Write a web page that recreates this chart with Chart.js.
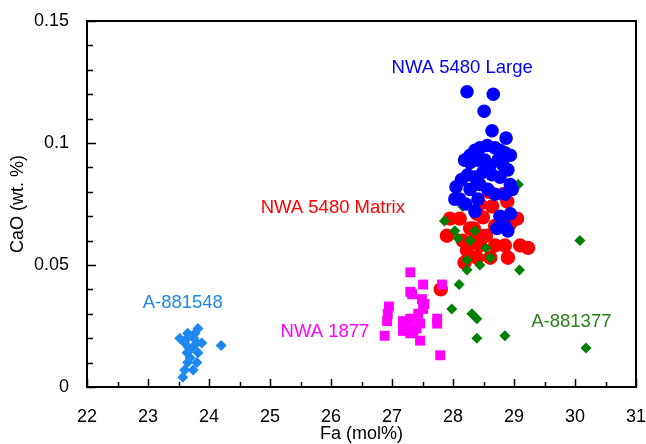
<!DOCTYPE html>
<html>
<head>
<meta charset="UTF-8">
<title>CaO vs Fa</title>
<style>
  html, body { margin: 0; padding: 0; background: #fff; overflow: hidden; }
  #box { width: 646px; height: 444px; }
  canvas { display: block; }
</style>
</head>
<body>
<div id="box"><canvas id="chart"></canvas></div>
<script src="https://cdn.jsdelivr.net/npm/chart.js"></script>
<script>
// Fa (mol%) and CaO (wt.%)
const a881548Fa  = [23.82, 23.77, 23.65, 23.52, 23.64, 23.80, 23.88, 23.60, 23.72, 23.82, 24.20, 23.64, 23.65, 23.80, 23.60, 23.57, 23.74, 23.69, 23.75, 23.67];
const a881548CaO = [0.024, 0.022, 0.022, 0.020, 0.020, 0.018, 0.018, 0.018, 0.016, 0.014, 0.017, 0.014, 0.010, 0.010, 0.007, 0.004, 0.007, 0.012, 0.020, 0.016];

const nwa1877Fa  = [27.30, 27.51, 27.82, 27.30, 27.49, 27.51, 26.95, 26.93, 26.92, 27.18, 27.30, 27.46, 27.74, 27.74, 27.18, 27.35, 27.30, 26.88, 27.46, 27.79, 27.53, 27.25, 27.40, 27.43, 27.33];
const nwa1877CaO = [0.047, 0.042, 0.042, 0.039, 0.036, 0.032, 0.033, 0.030, 0.027, 0.027, 0.028, 0.026, 0.028, 0.026, 0.023, 0.023, 0.022, 0.021, 0.019, 0.013, 0.034, 0.025, 0.024, 0.030, 0.038];

const largeFa  = [28.23, 28.66, 28.51, 28.64, 28.87, 28.56, 28.69, 28.44, 28.36, 28.77, 28.85, 28.28, 28.94, 28.19, 28.28, 28.41, 28.52, 28.61, 28.74, 28.82, 28.90, 28.24, 28.36, 28.49, 28.64, 28.77, 28.94, 28.14, 28.05, 28.11, 28.28, 28.44, 28.57, 28.69, 28.85, 28.97, 28.03, 28.21, 28.41, 28.77, 28.85, 28.90, 28.36, 28.72, 28.94];
const largeCaO = [0.121, 0.120, 0.113, 0.105, 0.102, 0.099, 0.098, 0.098, 0.097, 0.097, 0.096, 0.095, 0.095, 0.093, 0.092, 0.093, 0.093, 0.091, 0.093, 0.091, 0.089, 0.087, 0.086, 0.088, 0.087, 0.086, 0.083, 0.085, 0.082, 0.077, 0.081, 0.083, 0.081, 0.079, 0.079, 0.081, 0.077, 0.075, 0.077, 0.070, 0.066, 0.064, 0.072, 0.065, 0.071];

const a881377Fa  = [29.07, 28.16, 27.86, 28.03, 28.08, 28.54, 28.23, 28.44, 29.09, 28.23, 28.10, 27.98, 28.31, 28.39, 28.39, 28.85, 30.18, 30.08, 28.61, 28.28, 28.36];
const a881377CaO = [0.083, 0.074, 0.068, 0.064, 0.061, 0.057, 0.052, 0.050, 0.048, 0.048, 0.042, 0.032, 0.030, 0.028, 0.020, 0.021, 0.016, 0.060, 0.053, 0.060, 0.064];

const matrixFa  = [28.59, 28.82, 28.89, 28.44, 28.64, 27.95, 28.11, 28.39, 28.49, 28.94, 29.05, 28.69, 27.90, 28.16, 28.44, 29.10, 29.23, 28.69, 28.85, 28.23, 28.39, 28.61, 28.90, 28.19, 28.44, 28.34, 28.28, 27.80, 28.54, 28.34];
const matrixCaO = [0.080, 0.079, 0.076, 0.075, 0.074, 0.069, 0.069, 0.071, 0.0695, 0.067, 0.069, 0.066, 0.062, 0.060, 0.062, 0.058, 0.057, 0.058, 0.058, 0.056, 0.053, 0.053, 0.053, 0.051, 0.058, 0.065, 0.065, 0.040, 0.062, 0.060];

const xTicks = [22, 23, 24, 25, 26, 27, 28, 29, 30, 31];
const yTicks = [0, 0.05, 0.1, 0.15];

function pts(xs, ys) {
  return xs.map((x, i) => ({ x: x, y: ys[i] }));
}

const FONT = 'Arial, "Liberation Sans", sans-serif';

// text labels next to the groups
const notes = [
  { text: 'NWA 5480 Large', x: 28.15, y: 0.1307, color: '#0000ff' },
  { text: 'NWA 5480 Matrix', x: 26.03, y: 0.0734, color: '#ff0000' },
  { text: 'NWA 1877', x: 25.90, y: 0.0225, color: '#ff00ff' },
  { text: 'A-881548', x: 23.57, y: 0.0344, color: '#1e87f0' },
  { text: 'A-881377', x: 29.94, y: 0.0266, color: '#2a7d1a' }
];

const frame = {
  id: 'frame',
  afterDatasetsDraw(chart) {
    const ctx = chart.ctx;
    const a = chart.chartArea;
    const xs = chart.scales.x, ys = chart.scales.y;
    ctx.save();
    ctx.strokeStyle = '#000';
    ctx.lineWidth = 1.5;
    ctx.beginPath();
    // x ticks, inner, minor every 0.5
    for (let v = 22; v <= 31.001; v += 0.5) {
      const px = Math.round(xs.getPixelForValue(v)) + 0.5;
      const len = Math.abs(v - Math.round(v)) < 0.01 ? 8 : 5;
      ctx.moveTo(px, a.bottom);
      ctx.lineTo(px, a.bottom - len);
    }
    // y ticks, inner, minor every 0.01
    for (let k = 0; k <= 15; k++) {
      const py = Math.round(ys.getPixelForValue(k / 100)) + 0.5;
      const len = k % 5 === 0 ? 9 : 6;
      ctx.moveTo(a.left, py);
      ctx.lineTo(a.left + len, py);
    }
    ctx.stroke();
    ctx.lineWidth = 2;
    ctx.strokeRect(a.left, a.top, a.right - a.left, a.bottom - a.top);

    ctx.font = '18.5px ' + FONT;
    ctx.textAlign = 'center';
    ctx.textBaseline = 'middle';
    notes.forEach(n => {
      ctx.fillStyle = n.color;
      ctx.fillText(n.text, xs.getPixelForValue(n.x), ys.getPixelForValue(n.y));
    });
    ctx.restore();
  }
};

new Chart(document.getElementById('chart'), {
  type: 'scatter',
  data: {
    datasets: [
      { label: 'A-881548', data: pts(a881548Fa, a881548CaO), pointStyle: 'rectRot', pointRadius: 5.5,
        backgroundColor: '#1e87f0', borderColor: '#1e87f0', borderWidth: 0 },
      { label: 'NWA 1877', data: pts(nwa1877Fa, nwa1877CaO), pointStyle: 'rect', pointRadius: 7,
        backgroundColor: '#ff00ff', borderColor: '#ff00ff', borderWidth: 0 },
      { label: 'NWA 5480 Large', data: pts(largeFa, largeCaO), pointStyle: 'circle', pointRadius: 6.8,
        backgroundColor: '#0000ff', borderColor: '#0000ff', borderWidth: 0 },
      { label: 'A-881377', data: pts(a881377Fa, a881377CaO), pointStyle: 'rectRot', pointRadius: 5.5,
        backgroundColor: '#008000', borderColor: '#008000', borderWidth: 0 },
      { label: 'NWA 5480 Matrix', data: pts(matrixFa, matrixCaO), pointStyle: 'circle', pointRadius: 7.2,
        backgroundColor: '#ff0000', borderColor: '#ff0000', borderWidth: 0 }
    ]
  },
  options: {
    responsive: true,
    maintainAspectRatio: false,
    animation: false,
    layout: { padding: { top: 21, right: 10, left: 0, bottom: 0 } },
    plugins: {
      legend: { display: false },
      tooltip: { enabled: false }
    },
    scales: {
      x: {
        type: 'linear',
        min: 22, max: 31,
        afterBuildTicks(scale) { scale.ticks = xTicks.map(v => ({ value: v })); },
        afterFit(scale) { scale.height = 57; scale.paddingLeft = 0; scale.paddingRight = 0; },
        grid: { display: false },
        border: { display: false },
        ticks: { color: '#000', font: { size: 18, family: FONT }, padding: 11, maxRotation: 0 },
        title: { display: true, text: 'Fa (mol%)', color: '#000', font: { size: 18, family: FONT }, padding: { top: 0, bottom: -1 } }
      },
      y: {
        type: 'linear',
        min: 0, max: 0.15,
        afterBuildTicks(scale) { scale.ticks = yTicks.map(v => ({ value: v })); },
        afterFit(scale) { scale.width = 87; scale.paddingTop = 0; scale.paddingBottom = 0; },
        grid: { display: false },
        border: { display: false },
        ticks: { color: '#000', font: { size: 18, family: FONT }, padding: 10,
          callback: v => String(Math.round(v * 100) / 100) },
        title: { display: true, text: 'CaO (wt. %)', color: '#000', font: { size: 18, family: FONT }, padding: { top: 7, bottom: 0 } }
      }
    }
  },
  plugins: [frame]
});
</script>
</body>
</html>
